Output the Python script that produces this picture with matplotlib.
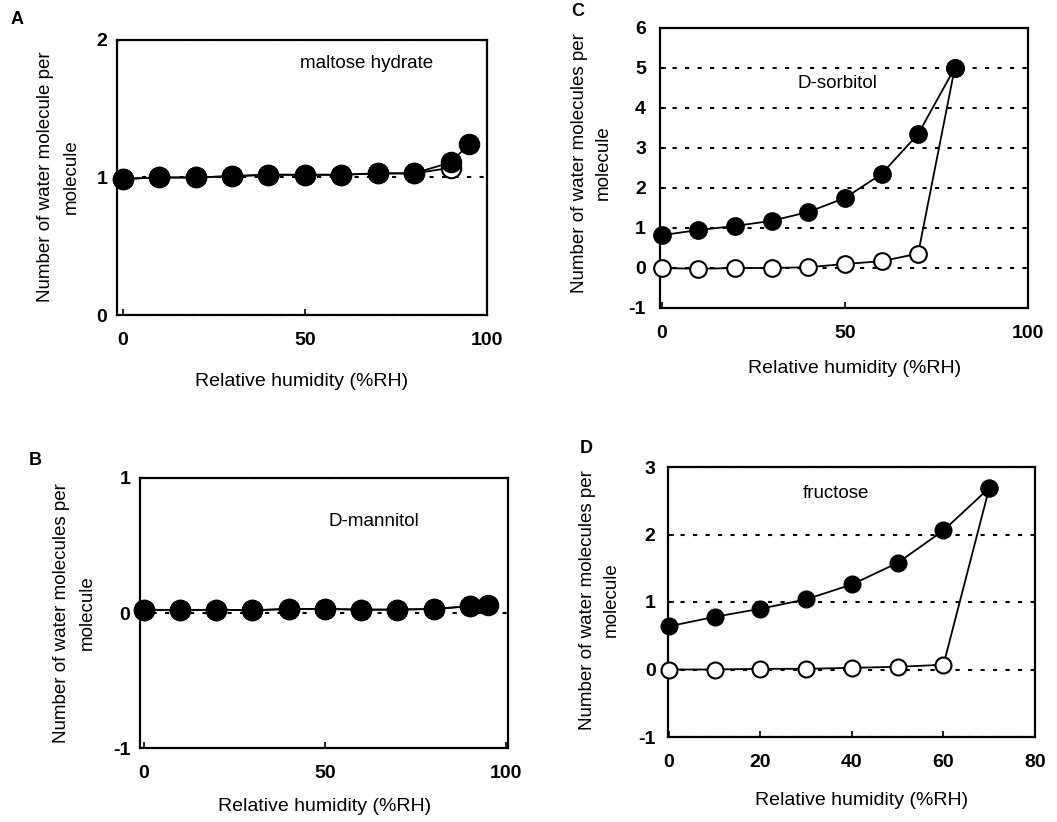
import matplotlib
matplotlib.use("Agg")
import matplotlib.pyplot as plt

plt.rcParams['font.family'] = ['Liberation Sans', 'DejaVu Sans']
plt.rcParams['axes.unicode_minus'] = False

# ---------------- data ----------------
# Panel A: maltose hydrate
a_rh_ads = [0, 10, 20, 30, 40, 50, 60, 70, 80, 90, 95]
a_ads = [0.99, 1.00, 1.00, 1.01, 1.02, 1.02, 1.02, 1.03, 1.03, 1.11, 1.24]
a_rh_des = [0, 10, 20, 30, 40, 50, 60, 70, 80, 90]
a_des = [0.99, 1.00, 1.00, 1.01, 1.02, 1.02, 1.02, 1.03, 1.03, 1.07]

# Panel B: D-mannitol
b_rh_ads = [0, 10, 20, 30, 40, 50, 60, 70, 80, 90, 95]
b_ads = [0.025, 0.02, 0.025, 0.02, 0.03, 0.03, 0.025, 0.025, 0.03, 0.05, 0.06]
b_rh_des = [0, 10, 20, 30, 40, 50, 60, 70, 80, 90]
b_des = [0.025, 0.02, 0.025, 0.02, 0.03, 0.03, 0.025, 0.025, 0.03, 0.05]

# Panel C: D-sorbitol
c_rh_ads = [0, 10, 20, 30, 40, 50, 60, 70, 80]
c_ads = [0.82, 0.95, 1.05, 1.18, 1.40, 1.75, 2.35, 3.35, 5.00]
c_rh_des = [0, 10, 20, 30, 40, 50, 60, 70, 80]
c_des = [0.00, -0.02, 0.00, 0.00, 0.02, 0.10, 0.17, 0.36, 5.00]

# Panel D: fructose
d_rh_ads = [0, 10, 20, 30, 40, 50, 60, 70]
d_ads = [0.64, 0.78, 0.90, 1.04, 1.26, 1.58, 2.06, 2.69]
d_rh_des = [0, 10, 20, 30, 40, 50, 60, 70]
d_des = [0.00, 0.00, 0.01, 0.01, 0.025, 0.04, 0.07, 2.69]

panel_letters = ["A", "B", "C", "D"]
panel_names = ["maltose hydrate", "D-mannitol", "D-sorbitol", "fructose"]
ylabel_a = "Number of water molecule per\nmolecule"
ylabel_other = "Number of water molecules per\nmolecule"
xlabel = "Relative humidity (%RH)"

# ---------------- layout ----------------
W, H = 1057, 822
fig = plt.figure(figsize=(W / 100, H / 100), dpi=100)


def box(l, r, t, b):
    return [l / W, 1 - b / H, (r - l) / W, (b - t) / H]


def fx(x):
    return x / W


def fy(y):
    return 1 - y / H


panels = [
    dict(rect=box(117, 487, 40, 315), xlim=(-1.6, 99.2), ylim=(0, 2),
         xt=[0, 50, 100], yt=[0, 1, 2], ads=(a_rh_ads, a_ads), des=(a_rh_des, a_des),
         ms=14, name=panel_names[0], name_xy=(367, 64), letter=panel_letters[0],
         letter_xy=(17, 20), ylab=ylabel_a, ylab_x=(46, 71), ylab_y=177,
         xlab_xy=(302, 381), ypad=7),
    dict(rect=box(140, 508, 478, 748), xlim=(-1.0, 100.5), ylim=(-1, 1),
         xt=[0, 50, 100], yt=[-1, 0, 1], ads=(b_rh_ads, b_ads), des=(b_rh_des, b_des),
         ms=14, name=panel_names[1], name_xy=(374, 522), letter=panel_letters[1],
         letter_xy=(35, 460), ylab=ylabel_other, ylab_x=(62, 87), ylab_y=613,
         xlab_xy=(325, 806), ypad=7),
    dict(rect=box(660, 1028, 28, 308), xlim=(-0.5, 99.5), ylim=(-1, 6),
         xt=[0, 50, 100], yt=[-1, 0, 1, 2, 3, 4, 5, 6], ads=(c_rh_ads, c_ads),
         des=(c_rh_des, c_des), ms=12, name=panel_names[2], name_xy=(837, 84),
         letter=panel_letters[2], letter_xy=(578, 12), ylab=ylabel_other,
         ylab_x=(580, 603), ylab_y=163, xlab_xy=(855, 368), ypad=10),
    dict(rect=box(668, 1035, 467, 737), xlim=(-0.2, 78), ylim=(-1, 3),
         xt=[0, 20, 40, 60, 80], yt=[-1, 0, 1, 2, 3], ads=(d_rh_ads, d_ads),
         des=(d_rh_des, d_des), ms=11.5, name=panel_names[3], name_xy=(836, 493),
         letter=panel_letters[3], letter_xy=(586, 448), ylab=ylabel_other,
         ylab_x=(588, 611), ylab_y=600, xlab_xy=(862, 800), ypad=9),
]

for p in panels:
    ax = fig.add_axes(p["rect"])
    ax.set_xlim(*p["xlim"])
    ax.set_ylim(*p["ylim"])
    ax.set_xticks(p["xt"])
    ax.set_yticks(p["yt"])
    ax.tick_params(direction="in", length=4, width=1.2, labelsize=14,
                   top=False, right=False)
    ax.tick_params(axis="x", pad=12)
    ax.tick_params(axis="y", pad=p["ypad"])
    for lab in ax.get_xticklabels() + ax.get_yticklabels():
        lab.set_fontweight("bold")
    for s in ax.spines.values():
        s.set_linewidth(1.6)
    ax.set_axisbelow(True)
    ax.yaxis.grid(True, color="black", linestyle=(0, (2, 4)), linewidth=1.5)
    ax.xaxis.grid(False)

    rx, ry = p["des"]
    ax.plot(rx, ry, "-o", color="black", lw=1.3, ms=p["ms"], mfc="white",
            mec="black", mew=1.5, zorder=3, clip_on=False)
    rx, ry = p["ads"]
    ax.plot(rx, ry, "-o", color="black", lw=1.3, ms=p["ms"], mfc="black",
            mec="black", mew=1.5, zorder=4, clip_on=False)

    fig.text(fx(p["name_xy"][0]), fy(p["name_xy"][1]), p["name"], fontsize=13.5,
             ha="center", va="center")
    fig.text(fx(p["letter_xy"][0]), fy(p["letter_xy"][1]), p["letter"],
             fontsize=13, fontweight="bold", ha="center", va="center")
    line1, line2 = p["ylab"].split("\n")
    fig.text(fx(p["ylab_x"][0]), fy(p["ylab_y"]), line1, rotation=90,
             fontsize=13.5, ha="center", va="center")
    fig.text(fx(p["ylab_x"][1]), fy(p["ylab_y"]), line2, rotation=90,
             fontsize=13.5, ha="center", va="center")
    fig.text(fx(p["xlab_xy"][0]), fy(p["xlab_xy"][1]), xlabel, fontsize=14,
             ha="center", va="center")

fig.savefig("out.png", dpi=100)
